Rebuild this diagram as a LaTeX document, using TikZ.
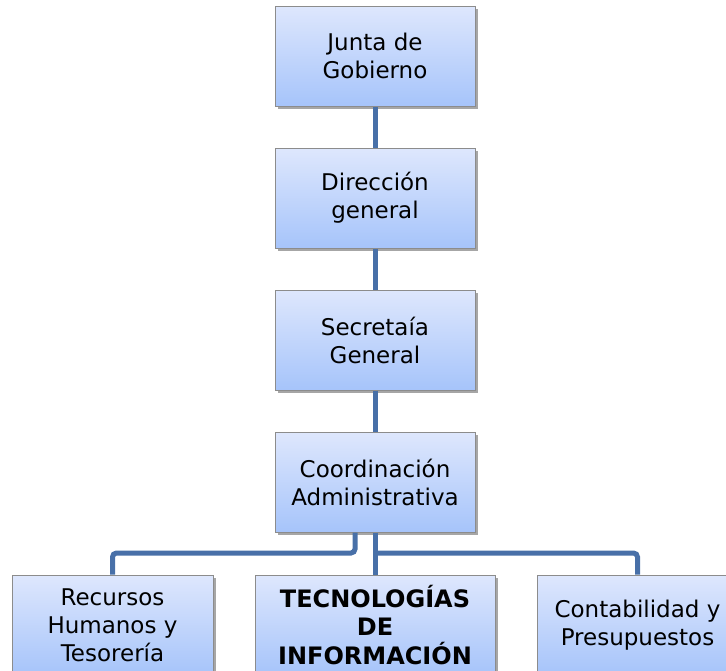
\documentclass[tikz,border=0pt]{standalone}
\usepackage{fontspec}
\setmainfont{DejaVu Sans}
\usetikzlibrary{shadows}
\definecolor{linkblue}{RGB}{72,112,168}
\definecolor{boxtop}{RGB}{222,231,253}
\definecolor{boxbot}{RGB}{166,196,250}
\definecolor{boxedge}{RGB}{140,140,140}
\tikzset{
  orgbox/.style={rectangle, draw=boxedge, line width=1pt,
    top color=boxtop, bottom color=boxbot,
    minimum width=200pt, minimum height=100pt, inner sep=0pt,
    align=center, text=black,
    font=\fontsize{23}{28}\selectfont,
    drop shadow={shadow xshift=3pt, shadow yshift=-3pt, opacity=0.35, fill=black}},
  link/.style={draw=linkblue, line width=5pt, rounded corners=4pt}
}
\begin{document}
\begin{tikzpicture}[x=1pt,y=-1pt]
\useasboundingbox (0,0) rectangle (726,670);
\clip (0,0) rectangle (726,670);
\node[orgbox] (junta) at (375,56) {Junta de\\Gobierno};
\node[orgbox] (dir) at (375,198) {Dirección\\general};
\node[orgbox] (sec) at (375,340) {Secretaía\\General};
\node[orgbox] (coord) at (375,482) {Coordinación\\Administrativa};
\node[orgbox, minimum width=201pt] (rh) at (112.5,625) {Recursos\\Humanos y\\Tesorería};
\node[orgbox, minimum width=240pt, font=\fontsize{24}{28.5}\selectfont\bfseries] (ti) at (375,625) {TECNOLOGÍAS\\DE\\INFORMACIÓN};
\node[orgbox, minimum width=201pt] (cp) at (637.5,625) {Contabilidad y\\Presupuestos};
\coordinate (jr) at (375,553);
\begin{scope}[on background layer/.try]
\end{scope}
\draw[link] (junta.south) -- (dir.north);
\draw[link] (dir.south) -- (sec.north);
\draw[link] (sec.south) -- (coord.north);
\draw[link] ([xshift=-20pt]coord.south) |- (jr -| rh.north) -- (rh.north);
\draw[link] (coord.south) -- (ti.north);
\draw[link] (jr) -| (cp.north);
\end{tikzpicture}
\end{document}
